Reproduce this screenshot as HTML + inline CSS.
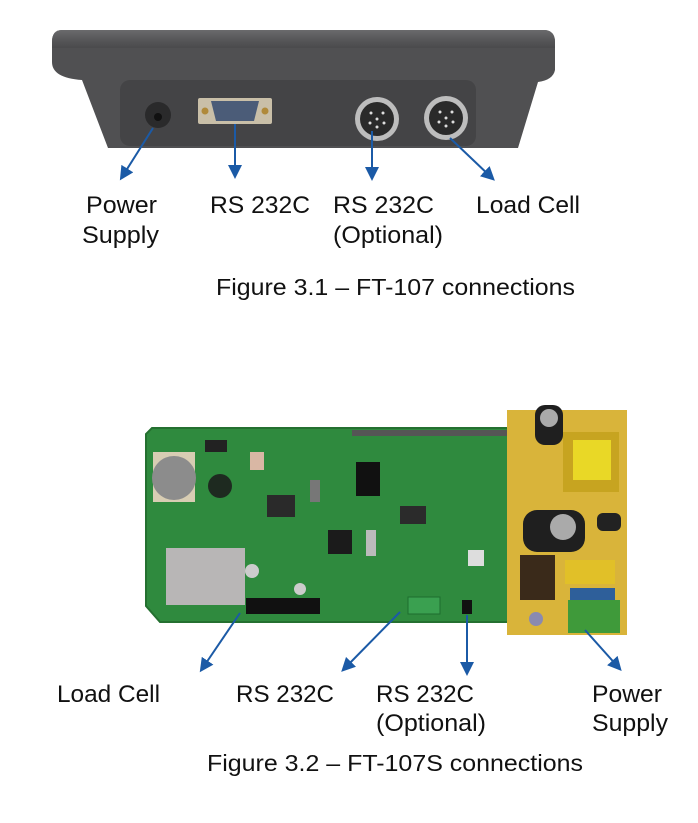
<!DOCTYPE html>
<html><head><meta charset="utf-8"><style>
html,body{margin:0;padding:0;background:#fff;}
svg{display:block;}
text{font-family:"Liberation Sans",Arial,sans-serif;fill:#111;}
</style></head><body>
<svg width="698" height="823" viewBox="0 0 698 823" xmlns="http://www.w3.org/2000/svg">
<defs>
<marker id="ah" markerWidth="14" markerHeight="14" refX="10" refY="7" orient="auto" markerUnits="userSpaceOnUse">
<path d="M0,0 L14,7 L0,14 z" fill="#1b5aa6"/></marker>
<linearGradient id="topg" x1="0" y1="0" x2="0" y2="1"><stop offset="0" stop-color="#6a6a6c"/><stop offset="0.5" stop-color="#58585a"/><stop offset="1" stop-color="#4a4a4c"/></linearGradient>
</defs>
<path d="M62,30 L545,30 Q555,31 555,42 L555,70 Q553,80 538,82 L518,148 L108,148 L82,80 Q52,78 52,62 L52,42 Q52,30 62,30 Z" fill="#505052"/>
<path d="M62,30 L545,30 Q555,31 555,42 L555,48 L52,48 L52,42 Q52,30 62,30Z" fill="url(#topg)"/>
<rect x="120" y="80" width="356" height="66" rx="10" fill="#444446"/>
<circle cx="158" cy="115" r="13" fill="#2a2a2b"/>
<circle cx="158" cy="117" r="4" fill="#111"/>
<rect x="198" y="98" width="74" height="26" rx="2" fill="#c9bfa8"/>
<circle cx="205" cy="111" r="3.5" fill="#b08a3a"/><circle cx="265" cy="111" r="3.5" fill="#b08a3a"/>
<path d="M211,101 L259,101 L254,121 L216,121Z" fill="#4b5c78"/>
<circle cx="377" cy="119" r="22" fill="#bdbdbd"/><circle cx="377" cy="119" r="17" fill="#2a2a2a"/>
<circle cx="446" cy="118" r="22" fill="#bdbdbd"/><circle cx="446" cy="118" r="17" fill="#2a2a2a"/>
<g fill="#ddd"><circle cx="371" cy="113" r="1.5"/><circle cx="383" cy="113" r="1.5"/><circle cx="377" cy="119" r="1.5"/><circle cx="370" cy="123" r="1.5"/><circle cx="384" cy="123" r="1.5"/><circle cx="377" cy="127" r="1.5"/>
<circle cx="440" cy="112" r="1.5"/><circle cx="452" cy="112" r="1.5"/><circle cx="446" cy="118" r="1.5"/><circle cx="439" cy="122" r="1.5"/><circle cx="453" cy="122" r="1.5"/><circle cx="446" cy="126" r="1.5"/></g>
<g stroke="#1b5aa6" stroke-width="2" fill="none" marker-end="url(#ah)">
<line x1="153" y1="128" x2="122" y2="177"/>
<line x1="235" y1="124" x2="235" y2="175"/>
<line x1="372" y1="131" x2="372" y2="177"/>
<line x1="450" y1="138" x2="492" y2="178"/>
</g>
<g font-size="24" lengthAdjust="spacingAndGlyphs">
<text x="86" y="213" textLength="71" lengthAdjust="spacingAndGlyphs">Power</text>
<text x="82" y="243" textLength="77" lengthAdjust="spacingAndGlyphs">Supply</text>
<text x="210" y="213" textLength="100" lengthAdjust="spacingAndGlyphs">RS 232C</text>
<text x="333" y="213" textLength="101" lengthAdjust="spacingAndGlyphs">RS 232C</text>
<text x="333" y="243" textLength="110" lengthAdjust="spacingAndGlyphs">(Optional)</text>
<text x="476" y="213" textLength="104" lengthAdjust="spacingAndGlyphs">Load Cell</text>
</g>
<text x="216" y="295" font-size="23" textLength="359" lengthAdjust="spacingAndGlyphs">Figure 3.1 – FT-107 connections</text>
<path d="M152,428 L515,428 L515,622 L160,622 L146,606 L146,434 Z" fill="#2f8a3e" stroke="#247030" stroke-width="2"/>
<rect x="352" y="430" width="155" height="6" fill="#555"/>
<rect x="153" y="452" width="42" height="50" fill="#d8cdb3"/>
<circle cx="174" cy="478" r="22" fill="#8c8c8c"/>
<circle cx="220" cy="486" r="12" fill="#1e2a20"/>
<rect x="250" y="452" width="14" height="18" fill="#d9b7a4"/>
<rect x="356" y="462" width="24" height="34" fill="#111"/>
<rect x="328" y="530" width="24" height="24" fill="#1b1b1b"/>
<rect x="267" y="495" width="28" height="22" fill="#2a2a2a"/>
<rect x="400" y="506" width="26" height="18" fill="#2b2b2b"/>
<rect x="468" y="550" width="16" height="16" fill="#ddd"/>
<rect x="366" y="530" width="10" height="26" fill="#bbb"/>
<rect x="205" y="440" width="22" height="12" fill="#222"/>
<rect x="310" y="480" width="10" height="22" fill="#777"/>
<circle cx="252" cy="571" r="7" fill="#ccc"/><circle cx="300" cy="589" r="6" fill="#ccc"/>
<rect x="166" y="548" width="79" height="57" fill="#b8b6b6"/>
<rect x="246" y="598" width="74" height="16" fill="#111"/>
<rect x="408" y="597" width="32" height="17" fill="#3aa050" stroke="#1d6d2e"/>
<rect x="462" y="600" width="10" height="14" fill="#111"/>
<rect x="507" y="410" width="120" height="225" fill="#d9b43a"/>
<rect x="535" y="405" width="28" height="40" rx="10" fill="#1f1f1f"/>
<circle cx="549" cy="418" r="9" fill="#aaa"/>
<rect x="563" y="432" width="56" height="60" fill="#c7a420"/>
<rect x="573" y="440" width="38" height="40" fill="#e9d826"/>
<rect x="523" y="510" width="62" height="42" rx="14" fill="#1f1f1f"/>
<circle cx="563" cy="527" r="13" fill="#aaa"/>
<rect x="597" y="513" width="24" height="18" rx="6" fill="#222"/>
<rect x="520" y="555" width="35" height="45" fill="#3a2a1a"/>
<rect x="565" y="560" width="50" height="24" fill="#e1c028"/>
<rect x="570" y="588" width="45" height="15" fill="#2e5f9a"/>
<rect x="568" y="600" width="52" height="33" fill="#3f9a3a"/>
<circle cx="536" cy="619" r="7" fill="#8a8ab0"/>
<g stroke="#1b5aa6" stroke-width="2" fill="none" marker-end="url(#ah)">
<line x1="240" y1="613" x2="202" y2="669"/>
<line x1="400" y1="612" x2="344" y2="669"/>
<line x1="467" y1="615" x2="467" y2="672"/>
<line x1="585" y1="630" x2="619" y2="668"/>
</g>
<text x="57" y="702" font-size="24" textLength="103" lengthAdjust="spacingAndGlyphs">Load Cell</text>
<text x="236" y="702" font-size="24" textLength="98" lengthAdjust="spacingAndGlyphs">RS 232C</text>
<text x="376" y="702" font-size="24" textLength="98" lengthAdjust="spacingAndGlyphs">RS 232C</text>
<text x="376" y="731" font-size="24" textLength="110" lengthAdjust="spacingAndGlyphs">(Optional)</text>
<text x="592" y="702" font-size="24" textLength="70" lengthAdjust="spacingAndGlyphs">Power</text>
<text x="592" y="731" font-size="24" textLength="76" lengthAdjust="spacingAndGlyphs">Supply</text>
<text x="207" y="771" font-size="23" textLength="376" lengthAdjust="spacingAndGlyphs">Figure 3.2 – FT-107S connections</text>
</svg>
</body></html>
